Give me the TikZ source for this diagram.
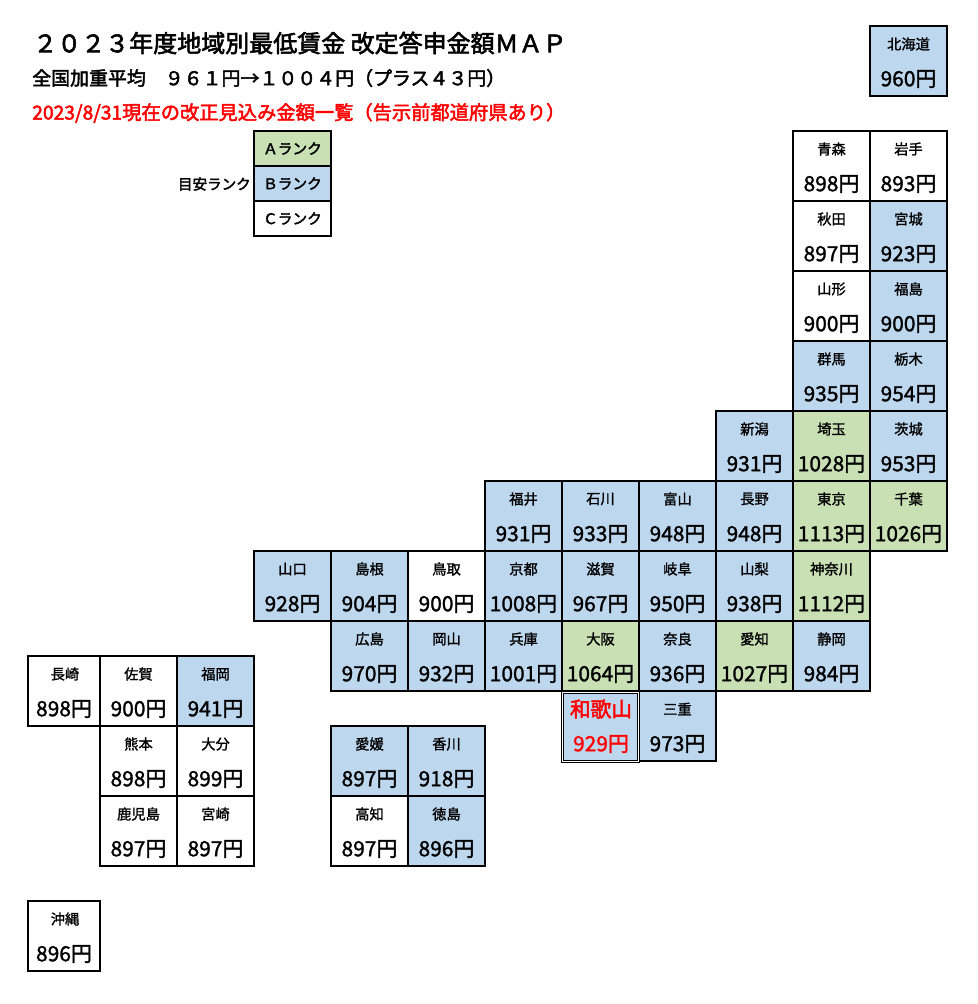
\documentclass[tikz,border=0pt]{standalone}
\usepackage{fontspec}
\setmainfont{Noto Sans CJK JP}
\newfontfamily\medfont[FakeBold=2.4]{Noto Sans CJK JP}
\newfontfamily\semifont[FakeBold=1.4]{Noto Sans CJK JP}
\definecolor{rankA}{HTML}{C9DFB4}
\definecolor{rankB}{HTML}{BDD7EE}
\definecolor{rankC}{HTML}{FFFFFF}
\newcommand{\fsz}[1]{\fontsize{#1}{#1}\selectfont}
\tikzset{
  cellbox/.style={draw=black,line width=1.5pt,inner sep=0pt,outer sep=0pt,minimum width=57.75pt,minimum height=52.5pt},
  rankbox/.style={draw=black,line width=1.5pt,inner sep=0pt,outer sep=0pt,minimum width=57.75pt,minimum height=26.25pt,font=\medfont\fsz{11}},
  preflabel/.style={inner sep=0pt,text=black,font=\semifont\fsz{10.7}},
  prefamount/.style={inner sep=0pt,text=black,font=\semifont\fsz{15.7}},
  headline/.style={inner sep=0pt,anchor=west},
}
% id, left x, top y, fill, label, amount
\newcommand{\cellbox}[6]{%
  \node[cellbox,fill=#4] (#1) at (#2+38.5,#3+35) {};
  \node[preflabel] (#1l) at (#2+38.5,#3+18) {#5};
  \node[prefamount] (#1a) at (#2+38.5,#3+53) {#6};
}
\begin{document}
\begin{tikzpicture}[x=0.75pt,y=-0.75pt]
\useasboundingbox (0,0) rectangle (978,1004);
\fill[white] (0,0) rectangle (978,1004);
\node[headline,font=\medfont\fsz{18}] (title) at (33,43) {２０２３年度地域別最低賃金 改定答申金額ＭＡＰ};
\node[headline,font=\medfont\fsz{14.2}] (avg) at (32,78) {全国加重平均　９６１円→１００４円（プラス４３円）};
\node[headline,font=\medfont\fsz{14.45},text=red] (note) at (32,113) {2023/8/31現在の改正見込み金額一覧（告示前都道府県あり）};
% legend
\node[rankbox,fill=rankA] (ra) at (292.5,148.5) {Ａランク};
\node[rankbox,fill=rankB] (rb) at (292.5,183.5) {Ｂランク};
\node[rankbox,fill=rankC] (rc) at (292.5,218.5) {Ｃランク};
\node[inner sep=0pt,anchor=east,font=\medfont\fsz{10.9}] (rt) at (251,184) {目安ランク};
% Hokkaido and Tohoku
\cellbox{hokkaido}{870}{26}{rankB}{北海道}{960円}
\cellbox{aomori}{793}{131}{rankC}{青森}{898円}
\cellbox{iwate}{870}{131}{rankC}{岩手}{893円}
\cellbox{akita}{793}{201}{rankC}{秋田}{897円}
\cellbox{miyagi}{870}{201}{rankB}{宮城}{923円}
\cellbox{yamagata}{793}{271}{rankC}{山形}{900円}
\cellbox{fukushima}{870}{271}{rankB}{福島}{900円}
\cellbox{gunma}{793}{341}{rankB}{群馬}{935円}
\cellbox{tochigi}{870}{341}{rankB}{栃木}{954円}
\cellbox{niigata}{716}{411}{rankB}{新潟}{931円}
\cellbox{saitama}{793}{411}{rankA}{埼玉}{1028円}
\cellbox{ibaraki}{870}{411}{rankB}{茨城}{953円}
\cellbox{fukui}{485}{481}{rankB}{福井}{931円}
\cellbox{ishikawa}{562}{481}{rankB}{石川}{933円}
\cellbox{toyama}{639}{481}{rankB}{富山}{948円}
\cellbox{nagano}{716}{481}{rankB}{長野}{948円}
\cellbox{tokyo}{793}{481}{rankA}{東京}{1113円}
\cellbox{chiba}{870}{481}{rankA}{千葉}{1026円}
\cellbox{yamaguchi}{254}{551}{rankB}{山口}{928円}
\cellbox{shimane}{331}{551}{rankB}{島根}{904円}
\cellbox{tottori}{408}{551}{rankC}{鳥取}{900円}
\cellbox{kyoto}{485}{551}{rankB}{京都}{1008円}
\cellbox{shiga}{562}{551}{rankB}{滋賀}{967円}
\cellbox{gifu}{639}{551}{rankB}{岐阜}{950円}
\cellbox{yamanashi}{716}{551}{rankB}{山梨}{938円}
\cellbox{kanagawa}{793}{551}{rankA}{神奈川}{1112円}
\cellbox{hiroshima}{331}{621}{rankB}{広島}{970円}
\cellbox{okayama}{408}{621}{rankB}{岡山}{932円}
\cellbox{hyogo}{485}{621}{rankB}{兵庫}{1001円}
\cellbox{osaka}{562}{621}{rankA}{大阪}{1064円}
\cellbox{nara}{639}{621}{rankB}{奈良}{936円}
\cellbox{aichi}{716}{621}{rankA}{愛知}{1027円}
\cellbox{shizuoka}{793}{621}{rankB}{静岡}{984円}
\cellbox{mie}{639}{691}{rankB}{三重}{973円}
% Wakayama: double border, red text
\node[draw=black,line width=0.75pt,fill=white,inner sep=0pt,outer sep=0pt,minimum width=58.5pt,minimum height=53.25pt] (wakayamaouter) at (600.5,726.5) {};
\node[draw=black,line width=0.75pt,fill=rankB,inner sep=0pt,outer sep=0pt,minimum width=55.5pt,minimum height=50.25pt] (wakayama) at (600.5,726.5) {};
\node[inner sep=0pt,text=red,font=\medfont\fsz{15.5}] (wakayamal) at (601,709) {和歌山};
\node[prefamount,text=red] (wakayamaa) at (601,744) {929円};
% Shikoku
\cellbox{ehime}{331}{726}{rankB}{愛媛}{897円}
\cellbox{kagawa}{408}{726}{rankB}{香川}{918円}
\cellbox{kochi}{331}{796}{rankC}{高知}{897円}
\cellbox{tokushima}{408}{796}{rankB}{徳島}{896円}
% Kyushu: Nagasaki column is narrower
\node[cellbox,minimum width=54pt,fill=rankC] (nagasaki) at (64,691) {};
\node[preflabel] (nagasakil) at (65,674) {長崎};
\node[prefamount] (nagasakia) at (64,709) {898円};
\cellbox{saga}{100}{656}{rankC}{佐賀}{900円}
\cellbox{fukuoka}{177}{656}{rankB}{福岡}{941円}
\cellbox{kumamoto}{100}{726}{rankC}{熊本}{898円}
\cellbox{oita}{177}{726}{rankC}{大分}{899円}
\cellbox{kagoshima}{100}{796}{rankC}{鹿児島}{897円}
\cellbox{miyazaki}{177}{796}{rankC}{宮崎}{897円}
\node[cellbox,minimum width=54pt,fill=rankC] (okinawa) at (64,936) {};
\node[preflabel] (okinawal) at (65,919) {沖縄};
\node[prefamount] (okinawaa) at (64,954) {896円};
\end{tikzpicture}
\end{document}
